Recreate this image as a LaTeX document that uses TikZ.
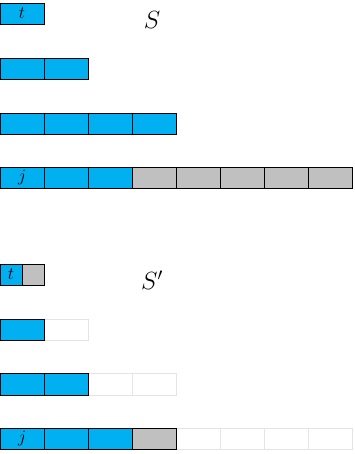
\documentclass[tikz,border=0pt]{standalone}
\definecolor{cellblue}{HTML}{00B0F0}
\definecolor{cellgray}{HTML}{C0C0C0}
\definecolor{faint}{HTML}{E4E4E4}
\begin{document}
\begin{tikzpicture}[x=1pt,y=-1pt,
  bluecell/.style={fill=cellblue,draw=black,line width=0.9pt},
  graycell/.style={fill=cellgray,draw=black,line width=0.9pt},
  emptycell/.style={fill=white,draw=faint,line width=0.9pt},
  lbl/.style={inner sep=0pt,font=\fontsize{17}{17}\selectfont},
  title/.style={inner sep=0pt,font=\fontsize{24}{24}\selectfont}]
\useasboundingbox (0,0) rectangle (354,454);
% ---------- S ----------
\draw[bluecell] (0.5,3) rectangle (44,24);
\node[lbl] (t1) at (22,13.5) {$t$};
\foreach \i in {0,1} \draw[bluecell] (0.5+44*\i,58) rectangle (44+44*\i,79);
\foreach \i in {0,...,3} \draw[bluecell] (0.5+44*\i,113) rectangle (44+44*\i,134);
\foreach \i in {0,1,2} \draw[bluecell] (0.5+44*\i,167) rectangle (44+44*\i,188);
\foreach \i in {3,...,7} \draw[graycell] (44*\i,167) rectangle (44+44*\i,188);
\node[lbl] (j1) at (22,177.5) {$j$};
\node[title] (S) at (152,20) {$S$};
% ---------- S' ----------
\draw[bluecell] (0.5,264) rectangle (22,285);
\draw[graycell] (22,264) rectangle (44,285);
\node[lbl] (t2) at (11,274.5) {$t$};
\draw[emptycell] (44,319) rectangle (88,340);
\draw[bluecell] (0.5,319) rectangle (44,340);
\foreach \i in {2,3} \draw[emptycell] (44*\i,373) rectangle (44+44*\i,395);
\foreach \i in {0,1} \draw[bluecell] (0.5+44*\i,373) rectangle (44+44*\i,395);
\foreach \i in {4,...,7} \draw[emptycell] (44*\i,428) rectangle (44+44*\i,449);
\foreach \i in {0,1,2} \draw[bluecell] (0.5+44*\i,428) rectangle (44+44*\i,449);
\draw[graycell] (132,428) rectangle (176,449);
\node[lbl] (j2) at (22,438.5) {$j$};
\node[title] (S2) at (152,280) {$S'$};
\end{tikzpicture}
\end{document}
